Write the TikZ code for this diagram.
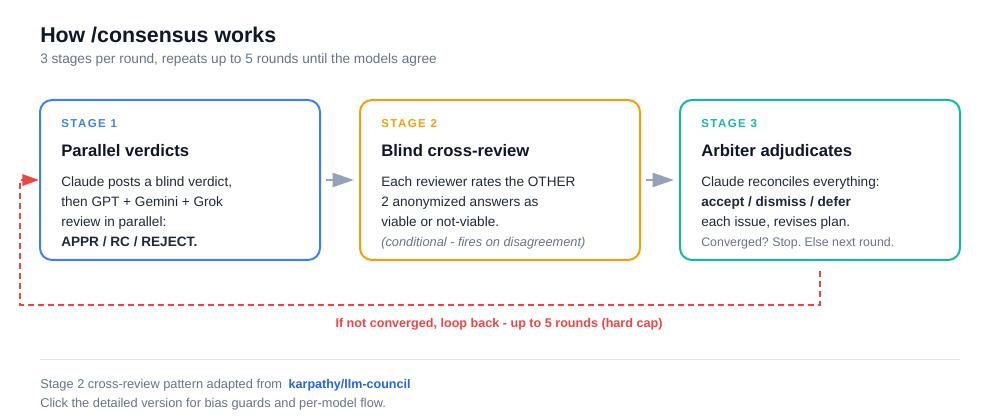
\documentclass[tikz,border=0pt]{standalone}
\usepackage{fontspec}
\setmainfont{Liberation Sans}
\usetikzlibrary{arrows.meta}
\frenchspacing

\definecolor{ink}{HTML}{0F172A}
\definecolor{bodyink}{HTML}{1E293B}
\definecolor{mutedgray}{HTML}{64748B}
\definecolor{stageblue}{HTML}{3B82F6}
\definecolor{stageorange}{HTML}{F59E0B}
\definecolor{stageteal}{HTML}{14B8A6}
\definecolor{loopred}{HTML}{EF4444}
\definecolor{arrowgray}{HTML}{94A3B8}
\definecolor{rulegray}{HTML}{E5E7EB}
\definecolor{linkblue}{HTML}{2563EB}

\newcommand{\stagetag}[1]{\addfontfeatures{LetterSpace=13}#1}

\begin{document}
\begin{tikzpicture}[x=0.75pt, y=-0.75pt,
  stagebox/.style={draw, line width=1.5pt, rounded corners=9pt, minimum width=210pt, minimum height=120pt, inner sep=0pt},
  tagtext/.style={anchor=base west, inner sep=0pt, font=\fontsize{8.6}{10}\selectfont\bfseries},
  headtext/.style={anchor=base west, inner sep=0pt, text=ink, font=\fontsize{12.5}{15}\selectfont\bfseries},
  bodytext/.style={anchor=base west, inner sep=0pt, align=left, text=bodyink, font=\fontsize{10.2}{15}\selectfont},
  flowarrow/.style={-{Triangle[length=16pt, width=10.5pt]}, arrowgray, line width=1.5pt, shorten <=3.75pt, shorten >=3.75pt},
  loopline/.style={-{Triangle[length=12.5pt, width=8.5pt]}, loopred, line width=1.5pt, dash pattern=on 4.5pt off 3pt},
  foottext/.style={anchor=base west, inner sep=0pt, text=mutedgray, font=\fontsize{9.6}{15}\selectfont}]

\useasboundingbox (0,0) rectangle (1000,420);

% heading
\node[anchor=base west, inner sep=0pt, text=ink, font=\fontsize{16}{19}\selectfont\bfseries] (title) at (40,43) {How /consensus works};
\node[foottext, font=\fontsize{10.25}{12}\selectfont] (subtitle) at (40,64) {3 stages per round, repeats up to 5 rounds until the models agree};

% stage boxes
\node[stagebox, draw=stageblue] (s1) at (180,180) {};
\node[stagebox, draw=stageorange] (s2) at (500,180) {};
\node[stagebox, draw=stageteal] (s3) at (820,180) {};

% stage 1 (body placed by its last baseline)
\node[tagtext, text=stageblue] (t1) at (61,128) {\stagetag{STAGE 1}};
\node[headtext] (h1) at (61,157) {Parallel verdicts};
\node[bodytext] (b1) at (61,247) {Claude posts a blind verdict,\\ then GPT + Gemini + Grok\\ review in parallel:\\ \textbf{APPR / RC / REJECT.}};

% stage 2
\node[tagtext, text=stageorange] (t2) at (381,128) {\stagetag{STAGE 2}};
\node[headtext] (h2) at (381,157) {Blind cross-review};
\node[bodytext] (b2) at (381,247) {Each reviewer rates the OTHER\\ 2 anonymized answers as\\ viable or not-viable.\\ {\fontsize{9.6}{15}\selectfont\itshape\color{mutedgray}(conditional - fires on disagreement)}};

% stage 3
\node[tagtext, text=stageteal] (t3) at (701,128) {\stagetag{STAGE 3}};
\node[headtext] (h3) at (701,157) {Arbiter adjudicates};
\node[bodytext] (b3) at (701,247) {Claude reconciles everything:\\ \textbf{accept / dismiss / defer}\\ each issue, revises plan.\\ {\fontsize{9.3}{15}\selectfont\color{mutedgray}Converged? Stop. Else next round.}};

% s1 -> s2 -> s3
\draw[flowarrow] (s1) -- (s2);
\draw[flowarrow] (s2) -- (s3);

% loop back
\coordinate (loopstart) at ([yshift=-7.5pt]s3.south);
\coordinate (loopturn) at (20,305);
\draw[loopline] (loopstart) |- (loopturn) |- (s1.west);
\node[anchor=base, inner sep=0pt, text=loopred, font=\fontsize{9.45}{12}\selectfont\bfseries] (looptext) at (499,328) {If not converged, loop back - up to 5 rounds (hard cap)};

% footer
\draw[rulegray, line width=0.75pt] (40,360) -- (960,360);
\node[foottext] (foot1) at (40,388) {Stage 2 cross-review pattern adapted from};
\node[anchor=base west, inner sep=0pt, text=linkblue, font=\fontsize{9.4}{15}\selectfont\bfseries] (link) at ([xshift=4.5pt]foot1.base east) {karpathy/llm-council};
\node[foottext] (foot2) at (40,407) {Click the detailed version for bias guards and per-model flow.};

\end{tikzpicture}
\end{document}
